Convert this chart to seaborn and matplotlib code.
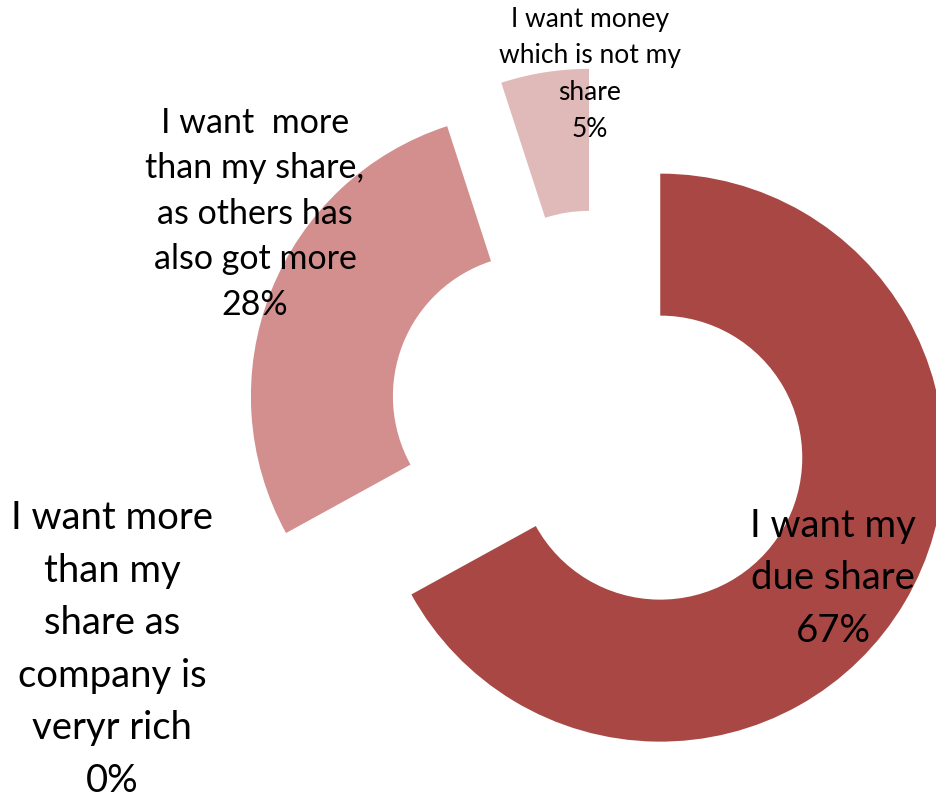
import matplotlib
matplotlib.use("Agg")
import matplotlib.pyplot as plt
import seaborn as sns

# Survey answers, clockwise from 12 o'clock
categories = [
    "I want my\ndue share",
    "I want more\nthan my\nshare as\ncompany is\nveryr rich",
    "I want  more\nthan my share,\nas others has\nalso got more",
    "I want money\nwhich is not my\nshare",
]
shares = [67, 0, 28, 5]
colors = ["#A94744", "#C0504D", "#D28F8E", "#E0B9B9"]

sns.set_theme(style="white")
plt.rcParams["font.family"] = ["Lato", "DejaVu Sans"]

W, H = 937, 800
fig = plt.figure(figsize=(W / 100, H / 100), dpi=100)
ax = fig.add_axes([0, 0, 1, 1])

# Ring geometry in pixel units (y measured upward)
radius = 284
ring_width = 142
center = (600, H - 422)
gap = 70

ax.pie(
    shares,
    colors=colors,
    radius=radius,
    center=center,
    explode=[gap] * len(shares),
    startangle=90,
    counterclock=False,
    wedgeprops=dict(width=ring_width, linewidth=0),
    frame=True,
)

# Data labels: category name plus its percentage (anchored at last baseline)
label_pos = [(833, 642), (112, 792), (255, 315), (590, 137)]
label_size = [27.5, 27.5, 24.5, 19]
label_spacing = [1.57, 1.57, 1.52, 1.59]
for name, v, (px, py), fs, ls in zip(categories, shares, label_pos, label_size, label_spacing):
    ax.text(px, H - py, f"{name}\n{v}%", ha="center", va="baseline",
            fontsize=fs, color="black", linespacing=ls, multialignment="center")

ax.set_xlim(0, W)
ax.set_ylim(0, H)
ax.set_aspect("equal")
ax.axis("off")

fig.savefig("out.png", dpi=100, facecolor="white")
